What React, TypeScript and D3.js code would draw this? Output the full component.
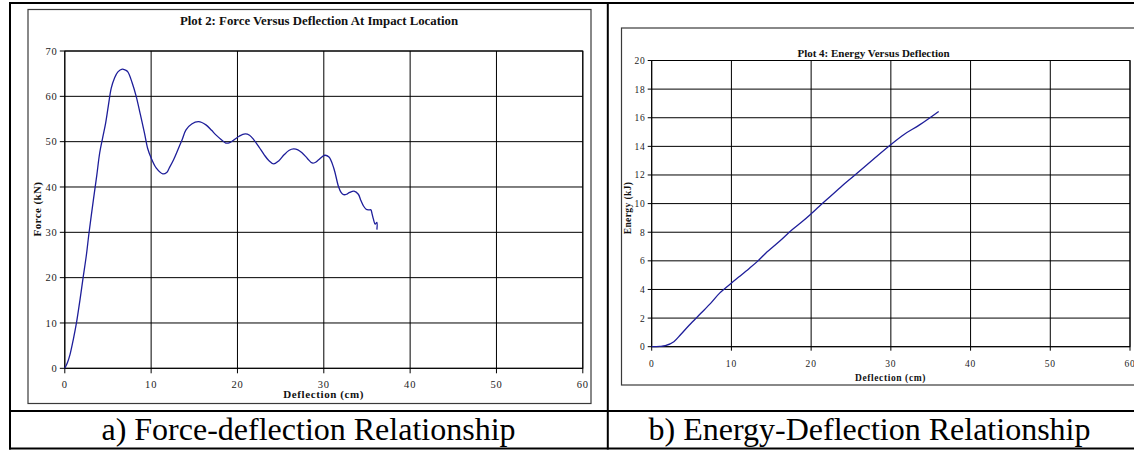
import React from 'react';
import * as d3 from 'd3';

const deflectionTicks = [0, 10, 20, 30, 40, 50, 60];
const forceTicks = [0, 10, 20, 30, 40, 50, 60, 70];
const energyTicks = [0, 2, 4, 6, 8, 10, 12, 14, 16, 18, 20];

const forceDeflection = [
  0, 0.3, 0.6, 1.0, 1.35, 1.75, 2.12, 2.5, 2.8, 3.3, 3.7, 4.04, 4.4, 4.73, 5.05, 5.38, 5.75, 6.15, 6.65, 7.0,
  7.3, 7.8, 8.27, 8.75, 9.23, 9.6, 10.0, 10.58, 11.35, 11.8, 12.1, 12.6, 13.1, 13.6, 14.04, 14.7, 15.5, 16.35,
  17.0, 17.5, 18.1, 18.65, 19.1, 19.6, 20.2, 20.9, 21.4, 21.9, 22.5, 23.1, 23.6, 24.2, 24.8, 25.4, 26.0, 26.5,
  27.0, 27.5, 28.1, 28.65, 29.0, 29.4, 30.1, 30.6, 31.15, 31.7, 32.0, 32.3, 32.65, 33.0, 33.5, 34.0, 34.3, 34.6,
  34.9, 35.2, 35.45, 35.6, 35.75, 35.95, 36.15, 36.15,
];
const forceValues = [
  0, 1.2, 3.0, 6.5, 10.0, 15.0, 20.0, 25.0, 29.8, 37.0, 42.5, 47.5, 51.0, 54.1, 58.0, 61.8, 64.0, 65.4, 66.0, 65.8,
  65.4, 63.0, 60.0, 56.0, 51.9, 48.5, 46.4, 44.2, 42.9, 43.2, 44.2, 46.0, 48.2, 50.5, 52.6, 53.9, 54.4, 53.7,
  52.5, 51.5, 50.5, 49.7, 49.8, 50.4, 51.2, 51.7, 51.4, 50.4, 48.8, 47.1, 45.9, 45.1, 45.8, 47.1, 48.1, 48.4,
  48.2, 47.5, 46.3, 45.3, 45.4, 46.0, 47.0, 46.6, 44.2, 40.1, 38.8, 38.3, 38.4, 38.8, 39.1, 38.4, 37.0, 35.8,
  35.1, 34.95, 34.95, 34.0, 32.9, 31.8, 32.2, 30.6,
];

const energyDeflection = [
  0, 1.0, 1.71, 2.78, 3.64, 4.7, 6.2, 7.5, 8.55, 10.05, 11.0, 12.2, 13.3, 14.33, 16.0, 17.5, 19.0, 20.0, 21.0,
  22.0, 23.7, 25.5, 27.7, 29.9, 31.7, 33.6, 36.0,
];
const energyValues = [
  0, 0.02, 0.07, 0.35, 0.85, 1.5, 2.35, 3.1, 3.76, 4.47, 4.9, 5.45, 5.98, 6.55, 7.35, 8.12, 8.8, 9.29, 9.8,
  10.3, 11.15, 12.0, 13.05, 14.08, 14.85, 15.5, 16.44,
];

const SERIF = '"Liberation Serif", "DejaVu Serif", serif';
const LINE = '#1e1e9a';

type Box = { x0: number; y0: number; x1: number; y1: number };

type ChartProps = {
  frame: Box;
  plot: Box;
  yMax: number;
  yTicks: number[];
  xs: number[];
  ys: number[];
  title: string;
  titleX: number;
  titleY: number;
  titleSize: number;
  xLabel: string;
  xLabelX: number;
  xLabelY: number;
  yLabel: string;
  yLabelX: number;
  yLabelY: number;
  labelSize: number;
  tickLabelSize: number;
  yTickLabelX: number;
  xTickLabelY: number;
  tickLen: number;
};

function Chart(p: ChartProps) {
  const x = d3.scaleLinear().domain([0, 60]).range([p.plot.x0, p.plot.x1]);
  const y = d3.scaleLinear().domain([0, p.yMax]).range([p.plot.y1, p.plot.y0]);
  const pts: [number, number][] = p.xs.map((v, i) => [v, p.ys[i]]);
  const line = d3
    .line<[number, number]>()
    .x((d) => x(d[0]))
    .y((d) => y(d[1]))
    .curve(d3.curveCatmullRom.alpha(0.5));
  return (
    <g>
      <rect
        x={p.frame.x0}
        y={p.frame.y0}
        width={p.frame.x1 - p.frame.x0}
        height={p.frame.y1 - p.frame.y0}
        fill="#fff"
        stroke="#3a3a3a"
        strokeWidth={1.2}
      />
      {p.yTicks.map((t) => (
        <line key={'h' + t} x1={p.plot.x0} x2={p.plot.x1} y1={y(t)} y2={y(t)} stroke="#000" strokeWidth={1} />
      ))}
      {deflectionTicks.map((t) => (
        <line key={'v' + t} x1={x(t)} x2={x(t)} y1={p.plot.y0} y2={p.plot.y1} stroke="#000" strokeWidth={1} />
      ))}
      <rect
        x={p.plot.x0}
        y={p.plot.y0}
        width={p.plot.x1 - p.plot.x0}
        height={p.plot.y1 - p.plot.y0}
        fill="none"
        stroke="#000"
        strokeWidth={1}
      />
      {p.yTicks.map((t) => (
        <line key={'yt' + t} x1={p.plot.x0 - p.tickLen} x2={p.plot.x0} y1={y(t)} y2={y(t)} stroke="#000" />
      ))}
      {deflectionTicks.map((t) => (
        <line key={'xt' + t} x1={x(t)} x2={x(t)} y1={p.plot.y1} y2={p.plot.y1 + p.tickLen} stroke="#000" />
      ))}
      {p.yTicks.map((t) => (
        <text
          key={'yl' + t}
          x={p.yTickLabelX}
          y={y(t)}
          dy="0.36em"
          textAnchor="end"
          fontFamily={SERIF}
          fontSize={p.tickLabelSize}
          letterSpacing={0.8}
          fill="#222"
        >
          {t}
        </text>
      ))}
      {deflectionTicks.map((t) => (
        <text
          key={'xl' + t}
          x={x(t)}
          y={p.xTickLabelY}
          textAnchor="middle"
          fontFamily={SERIF}
          fontSize={p.tickLabelSize}
          letterSpacing={0.8}
          fill="#222"
        >
          {t}
        </text>
      ))}
      <path d={line(pts) || ''} fill="none" stroke={LINE} strokeWidth={1.3} strokeLinejoin="round" />
      <text
        x={p.titleX}
        y={p.titleY}
        textAnchor="middle"
        fontFamily={SERIF}
        fontWeight="bold"
        fontSize={p.titleSize}
        fill="#111"
      >
        {p.title}
      </text>
      <text
        x={p.xLabelX}
        y={p.xLabelY}
        textAnchor="middle"
        fontFamily={SERIF}
        fontWeight="bold"
        fontSize={p.labelSize}
        letterSpacing={0.6}
        fill="#111"
      >
        {p.xLabel}
      </text>
      <text
        transform={`translate(${p.yLabelX},${p.yLabelY}) rotate(-90)`}
        textAnchor="middle"
        dy="0.35em"
        fontFamily={SERIF}
        fontWeight="bold"
        fontSize={p.labelSize}
        letterSpacing={0.4}
        fill="#111"
      >
        {p.yLabel}
      </text>
    </g>
  );
}

export default function App() {
  return (
    <svg
      width={1134}
      height={451}
      style={{ position: 'absolute', left: 0, top: 0, background: '#fff' }}
    >
      <rect x={0} y={0} width={1134} height={451} fill="#fff" />
      <Chart
        frame={{ x0: 28, y0: 9.5, x1: 591, y1: 403.5 }}
        plot={{ x0: 64.8, y0: 51, x1: 582.8, y1: 368.3 }}
        yMax={70}
        yTicks={forceTicks}
        xs={forceDeflection}
        ys={forceValues}
        title="Plot 2: Force Versus Deflection At Impact Location"
        titleX={319}
        titleY={25}
        titleSize={12.8}
        xLabel="Deflection (cm)"
        xLabelX={323.7}
        xLabelY={398}
        yLabel="Force (kN)"
        yLabelX={37}
        yLabelY={209}
        labelSize={11}
        tickLabelSize={10.5}
        yTickLabelX={57.5}
        xTickLabelY={388}
        tickLen={5}
      />
      <Chart
        frame={{ x0: 621.5, y0: 28, x1: 1145, y1: 385 }}
        plot={{ x0: 651.7, y0: 60.5, x1: 1130, y1: 346.7 }}
        yMax={20}
        yTicks={energyTicks}
        xs={energyDeflection}
        ys={energyValues}
        title="Plot 4: Energy Versus Deflection"
        titleX={873.5}
        titleY={57}
        titleSize={11}
        xLabel="Deflection (cm)"
        xLabelX={890.5}
        xLabelY={380.5}
        yLabel="Energy (kJ)"
        yLabelX={628}
        yLabelY={208}
        labelSize={9.5}
        tickLabelSize={9.5}
        yTickLabelX={645.5}
        xTickLabelY={366.5}
        tickLen={4}
      />
      {/* table borders */}
      <line x1={10} x2={1134} y1={3} y2={3} stroke="#000" strokeWidth={2} />
      <line x1={10} x2={10} y1={2} y2={449.5} stroke="#000" strokeWidth={2} />
      <line x1={607.8} x2={607.8} y1={2} y2={449.5} stroke="#000" strokeWidth={2} />
      <line x1={9} x2={1134} y1={411} y2={411} stroke="#000" strokeWidth={2} />
      <line x1={9} x2={1134} y1={448.5} y2={448.5} stroke="#000" strokeWidth={2} />
      <text x={308.5} y={440} textAnchor="middle" fontFamily={SERIF} fontSize={32} fill="#000">
        a) Force-deflection Relationship
      </text>
      <text x={869.5} y={440} textAnchor="middle" fontFamily={SERIF} fontSize={32} fill="#000">
        b) Energy-Deflection Relationship
      </text>
    </svg>
  );
}
